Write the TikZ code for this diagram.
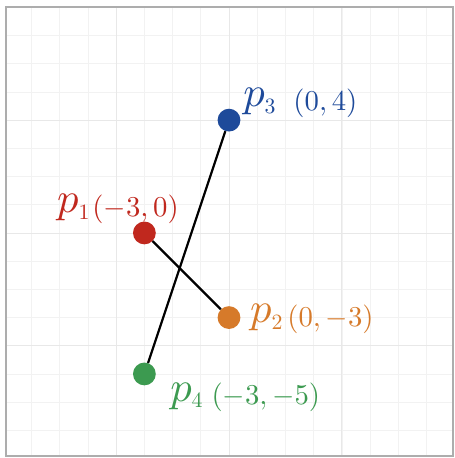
\documentclass[tikz,border=0pt]{standalone}
\usepackage{graphicx}
\usetikzlibrary{positioning}

\definecolor{ptred}{HTML}{C0281E}
\definecolor{ptorange}{HTML}{D67A2A}
\definecolor{ptblue}{HTML}{1E4A9A}
\definecolor{ptgreen}{HTML}{3C9A50}

% point name with subscript, gap, coordinates
\newcommand{\ptlabel}[3]{%
  \raisebox{4pt}{\scalebox{4.3}{$p$}}%
  \raisebox{-3pt}{\scalebox{2.2}{$#1$}}%
  \hspace{#2}%
  \scalebox{2.9}{$#3$}}

\begin{document}
\begin{tikzpicture}[
    x=1cm, y=1cm,
    dot/.style={circle, minimum size=23pt, inner sep=0pt},
    seg/.style={black, line width=2.3pt},
    lab/.style={anchor=base west, inner sep=0pt}
]
\useasboundingbox (-8.12,-7.98) rectangle (8.01,8.26);

% Grid and frame
\draw[black!5, line width=0.6pt] (-7.91,-7.91) grid (7.94,8.01);
\draw[black!9, line width=0.7pt, step=4] (-7.91,-7.91) grid (7.94,8.01);
\draw[black!32, line width=2pt] (-7.91,-7.91) rectangle (7.94,8.01);

% Points
\node[dot, fill=ptred] (p1) at (-3,0) {};
\node[dot, fill=ptorange] (p2) at (0,-3) {};
\node[dot, fill=ptblue] (p3) at (0,4) {};
\node[dot, fill=ptgreen] (p4) at (-3,-5) {};

% Segments
\draw[seg] (p1) -- (p2);
\draw[seg] (p3) -- (p4);

% Labels
\node[lab, text=ptred] (l1) at ([shift={(-3.10,0.60)}]p1.center) {\ptlabel{1}{3pt}{(-3,0)}};
\node[lab, text=ptorange] (l2) at ([shift={(0.74,-0.33)}]p2.center) {\ptlabel{2}{5pt}{(0,-3)}};
\node[lab, text=ptblue] (l3) at ([shift={(0.50,0.33)}]p3.center) {\ptlabel{3}{18pt}{(0,4)}};
\node[lab, text=ptgreen] (l4) at ([shift={(0.91,-1.10)}]p4.center) {\ptlabel{4}{9pt}{(-3,-5)}};

\end{tikzpicture}
\end{document}
